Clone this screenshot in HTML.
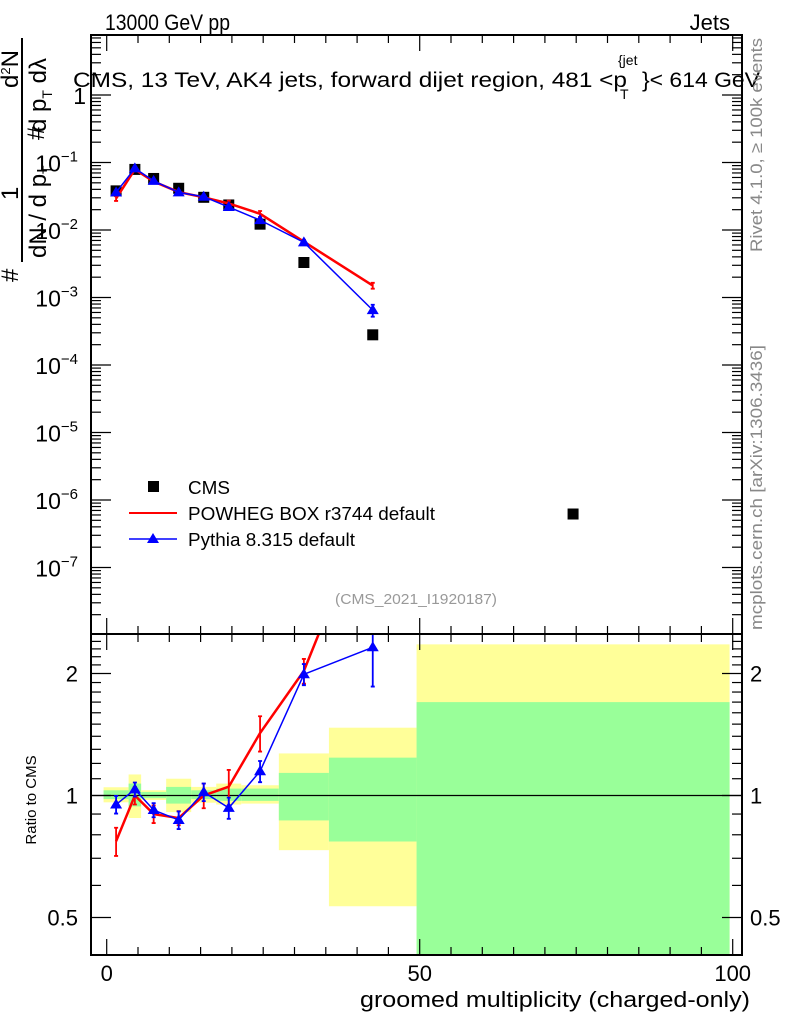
<!DOCTYPE html>
<html><head><meta charset="utf-8"><style>
body{margin:0;background:#fff;}
svg{display:block;font-family:"Liberation Sans",sans-serif;}
</style></head><body>
<svg id="c" width="786" height="1024" viewBox="0 0 786 1024" xmlns="http://www.w3.org/2000/svg">
<defs>
<clipPath id="cm"><rect x="91" y="35" width="651" height="599"/></clipPath>
<clipPath id="cr"><rect x="91" y="634" width="651" height="321"/></clipPath>
</defs>
<g id="bands" clip-path="url(#cr)"></g>
<g id="marks"></g>
<g id="axes"></g>
<text x="105" y="30" font-size="22" textLength="125" lengthAdjust="spacingAndGlyphs">13000 GeV pp</text>
<text x="730" y="30" font-size="22" text-anchor="end">Jets</text>
<g>
<text x="73" y="87" font-size="21" textLength="554" lengthAdjust="spacingAndGlyphs">CMS, 13 TeV, AK4 jets, forward dijet region, 481 &lt;p</text>
<text x="618" y="65" font-size="14">{jet</text>
<text x="620" y="99" font-size="14">T</text>
<text x="642" y="87" font-size="21" textLength="118" lengthAdjust="spacingAndGlyphs">}&lt; 614 GeV</text>
</g>
<g font-size="24">
<line x1="22" y1="38" x2="22" y2="262" stroke="#000" stroke-width="2"/>
<text transform="translate(18,282) rotate(-90)">#</text>
<text transform="translate(18,200) rotate(-90)">1</text>
<text transform="translate(44,140) rotate(-90)">#</text>
<text transform="translate(18,88) rotate(-90)">d<tspan font-size="13" dy="-8">2</tspan><tspan dy="8">N</tspan></text>
<text transform="translate(46,258) rotate(-90)">dN / d p<tspan font-size="14" dy="6">T</tspan></text>
<text transform="translate(46,132) rotate(-90)">d p<tspan font-size="14" dy="6">T</tspan><tspan dy="-6">  dλ</tspan></text>
</g>
<text transform="translate(36,800) rotate(-90)" font-size="15" text-anchor="middle">Ratio to CMS</text>
<text x="750" y="1007" font-size="22" text-anchor="end" textLength="390" lengthAdjust="spacingAndGlyphs">groomed multiplicity (charged-only)</text>
<text transform="translate(762,252) rotate(-90)" font-size="17" fill="#888" textLength="214" lengthAdjust="spacingAndGlyphs">Rivet 4.1.0, ≥ 100k events</text>
<text transform="translate(762,630) rotate(-90)" font-size="17" fill="#888" textLength="285" lengthAdjust="spacingAndGlyphs">mcplots.cern.ch [arXiv:1306.3436]</text>
<text x="335" y="604" font-size="15" fill="#999" textLength="162" lengthAdjust="spacingAndGlyphs">(CMS_2021_I1920187)</text>
<g font-size="18">
<rect x="148" y="481" width="11" height="11" fill="#000"/>
<text x="188" y="494" textLength="42" lengthAdjust="spacingAndGlyphs">CMS</text>
<line x1="129" y1="513" x2="177" y2="513" stroke="#f00" stroke-width="2"/>
<text x="188" y="520" textLength="247" lengthAdjust="spacingAndGlyphs">POWHEG BOX r3744 default</text>
<line x1="129" y1="539" x2="177" y2="539" stroke="#00f" stroke-width="1.5"/>
<polygon points="153,533 147,543 159,543" fill="#00f"/>
<text x="188" y="546" textLength="167" lengthAdjust="spacingAndGlyphs">Pythia 8.315 default</text>
</g>
</svg>
<script>
const xCenters=[1.5,4.5,7.5,11.5,15.5,19.5,24.5,31.5,42.5,74.5];
const binEdges=[-0.5,3.5,5.5,9.5,13.5,17.5,21.5,27.5,35.5,49.5,99.5];
const cmsValues=[0.038,0.079,0.058,0.0415,0.0305,0.0235,0.0122,0.0033,0.00028,6.2e-7];
const powhegValues=[0.0293,0.079,0.0522,0.0365,0.0305,0.0247,0.0174,0.0067,0.0015];
const powhegRelErr=[0.08,0.05,0.05,0.04,0.07,0.1,0.1,0.07,0.1];
const pythiaValues=[0.0361,0.0818,0.0534,0.0361,0.0311,0.0219,0.0140,0.00657,0.00065];
const pythiaRelErr=[0.05,0.04,0.04,0.05,0.05,0.06,0.06,0.06,0.2];
const bandStatLo=[0.98,0.94,0.985,0.955,0.98,0.97,0.97,0.868,0.77,0.3];
const bandStatHi=[1.03,1.07,1.02,1.05,1.03,1.04,1.04,1.137,1.24,1.70];
const bandTotLo=[0.962,0.88,0.975,0.91,0.96,0.95,0.955,0.733,0.533,0.3];
const bandTotHi=[1.048,1.127,1.03,1.10,1.05,1.07,1.06,1.27,1.47,2.36];
const mainTickLabels=["1","10","10","10","10","10","10","10"];
const mainTickExps=["","−1","−2","−3","−4","−5","−6","−7"];
const ratioTicks=[0.5,1,2];
const ratioTickLabels=["0.5","1","2"];
const xTicks=[0,50,100];
const xTickLabels=["0","50","100"];

const NS="http://www.w3.org/2000/svg";
const X=v=>106.7+v*6.26;
const YM=v=>95-Math.log10(v)*67.5;
const YR=r=>795.5-Math.log2(r)*122;
function mk(tag,attrs,parent){const e=document.createElementNS(NS,tag);for(const k in attrs)e.setAttribute(k,attrs[k]);parent.appendChild(e);return e;}
const bands=document.getElementById('bands');
const marks=document.getElementById('marks');
const axes=document.getElementById('axes');

for(let i=0;i<bandTotLo.length;i++){
  const x0=X(binEdges[i]),x1=X(binEdges[i+1]);
  let r=mk('rect',{x:x0,y:YR(bandTotHi[i]),width:x1-x0,height:YR(bandTotLo[i])-YR(bandTotHi[i]),fill:'#ffff99'},bands);
  
  
  let g=mk('rect',{x:x0,y:YR(bandStatHi[i]),width:x1-x0,height:YR(bandStatLo[i])-YR(bandStatHi[i]),fill:'#99ff99'},bands);
  
  
}
let one=mk('line',{x1:91,x2:742,y1:YR(1),y2:YR(1),stroke:'#000','stroke-width':1.2},marks);



const gm=mk('g',{'clip-path':'url(#cm)'},marks);


const gr=mk('g',{'clip-path':'url(#cr)'},marks);



function series(vals,errs,color,width,tri,name){
  let pts=vals.map((v,i)=>X(xCenters[i])+','+YM(v)).join(' ');
  let l=mk('polyline',{points:pts,fill:'none',stroke:color,'stroke-width':width},gm);
  
  
  let rp=vals.map((v,i)=>X(xCenters[i])+','+YR(v/cmsValues[i])).join(' ');
  let rl=mk('polyline',{points:rp,fill:'none',stroke:color,'stroke-width':width},gr);
  
  
  vals.forEach((v,i)=>{
    const x=X(xCenters[i]);
    [[gm,YM(v*(1+errs[i])),YM(v*(1-errs[i])),YM(v)],[gr,YR(v/cmsValues[i]*(1+errs[i])),YR(v/cmsValues[i]*(1-errs[i])),YR(v/cmsValues[i])]].forEach(([g,yh,yl,yc])=>{
      let e=mk('path',{d:`M${x},${yh}V${yl}M${x-2},${yh}H${x+2}M${x-2},${yl}H${x+2}`,stroke:color,'stroke-width':1.8,fill:'none'},g);
      
      
      if(tri){
        let t=mk('polygon',{points:`${x},${yc-6} ${x-6},${yc+4} ${x+6},${yc+4}`,fill:color},g);
        
        
      }
    });
  });
}
cmsValues.forEach((v,i)=>{
  let s=mk('rect',{x:X(xCenters[i])-5.5,y:YM(v)-5.5,width:11,height:11,fill:'#000'},gm);
  
  
});
series(powhegValues,powhegRelErr,'#f00',2.5,false,'powheg');
series(pythiaValues,pythiaRelErr,'#00f',1.5,true,'pythia');

[[35,634],[634,955]].forEach(([t,b],k)=>{
  let f=mk('rect',{x:91,y:t,width:651,height:b-t,fill:'none',stroke:'#000','stroke-width':2},axes);
  
  
});
function tick(x1,y1,x2,y2){mk('line',{x1,y1,x2,y2,stroke:'#000','stroke-width':1.2},axes);}
for(let d=0;d>=-8;d--){
  for(let m=1;m<10;m++){
    const v=m*Math.pow(10,d);const y=YM(v);
    if(y<36||y>633)continue;
    const L=m==1?20:10;
    tick(91,y,91+L,y);tick(742,y,742-L,y);
  }
}
mainTickLabels.forEach((lab,i)=>{
  const y=YM(Math.pow(10,-i));
  let t=mk('text',{x:i?78:86,y:y+9,'font-size':23,'text-anchor':'end'},axes);
  t.textContent=lab;
  
  
  if(i){let s=mk('tspan',{'font-size':15,dy:-10},t);s.textContent=mainTickExps[i];}
});
[0.4,0.5,0.6,0.7,0.8,0.9,1,1.1,1.2,1.3,1.4,1.5,1.6,1.7,1.8,1.9,2,2.1,2.2,2.3,2.4,2.5].forEach(r=>{
  const y=YR(r);if(y<635||y>954)return;
  const L=ratioTicks.includes(r)?20:10;
  tick(91,y,91+L,y);tick(742,y,742-L,y);
});
ratioTicks.forEach((r,i)=>{
  const y=YR(r);
  let t=mk('text',{x:78,y:y+8,'font-size':22,'text-anchor':'end'},axes);t.textContent=ratioTickLabels[i];
  
  
  let t2=mk('text',{x:750,y:y+8,'font-size':22},axes);t2.textContent=ratioTickLabels[i];
  
  
});
for(let v=0;v<=100;v+=5){
  const x=X(v);const L=v%50==0?16:8;
  tick(x,35,x,35+L);tick(x,634,x,634-L);tick(x,634,x,634+L);tick(x,955,x,955-L);
}
xTicks.forEach((v,i)=>{
  let t=mk('text',{x:X(v),y:981,'font-size':22,'text-anchor':'middle'},axes);t.textContent=xTickLabels[i];
  
  
});
</script>
</body></html>
